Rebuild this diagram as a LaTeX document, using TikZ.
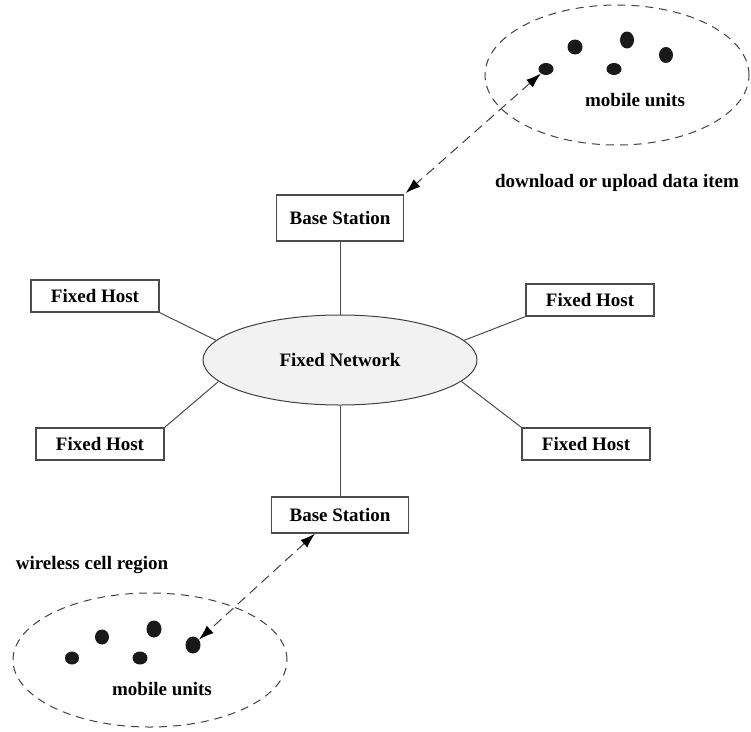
\documentclass[tikz,border=0pt]{standalone}
\usepackage{fontspec}
\setmainfont{Liberation Serif}
\usetikzlibrary{shapes.geometric,arrows.meta}

\begin{document}
\begin{tikzpicture}[x=1pt,y=-1pt,
		every node/.style={font=\fontsize{19}{22}\selectfont\bfseries},
		hostbox/.style={draw=black!70, line width=1.2pt, inner sep=0pt, minimum width=128pt, minimum height=32pt},
		cellzone/.style={ellipse, draw=black!75, line width=1pt, dash pattern=on 8pt off 6pt, inner sep=0pt},
		unit/.style={ellipse, fill=black!90, inner sep=0pt},
		link/.style={draw=black!70, line width=1pt},
		radio/.style={black!75, line width=1pt, dash pattern=on 10pt off 6pt,
			{Latex[length=15pt,width=10pt,black]}-{Latex[length=15pt,width=10pt,black]}}
	]

				\useasboundingbox (0,0) rectangle (751,731);
				
				\node[ellipse, draw=black!75, line width=1pt, fill=black!5, minimum width=274pt, minimum height=90pt] (net) at (340,360) {Fixed Network};
				
				\node[hostbox, minimum width=127pt, minimum height=46pt] (bsTop) at (340,218) {Base Station};
				\node[hostbox, minimum width=137pt, minimum height=36pt] (bsBot) at (340,515) {Base Station};
				
				\node[hostbox] (hostTL) at (95,296)  {Fixed Host};
				\node[hostbox] (hostBL) at (100,444) {Fixed Host};
				\node[hostbox] (hostTR) at (590,300) {Fixed Host};
				\node[hostbox] (hostBR) at (586,444) {Fixed Host};
				
				\draw[link] (bsTop) -- (net);
				\draw[link] (bsBot) -- (net);
				\draw[link] (net.171) -- (hostTL.south east);
				\draw[link] (net.190) -- (hostBL.north east);
				\draw[link] (net.9)   -- (hostTR.south west);
				\draw[link] (net.350) -- (hostBR.north west);
				
				
				\node[cellzone, minimum width=264pt, minimum height=140pt] (cellTop) at (617,75) {};
				\node[unit, minimum width=15pt, minimum height=12pt] (mA1) at (546,69) {};
				\node[unit, minimum width=15pt, minimum height=15pt] (mA2) at (575,47) {};
				\node[unit, minimum width=14pt, minimum height=17pt] (mA3) at (627,40) {};
				\node[unit, minimum width=14pt, minimum height=16pt] (mA4) at (666,55) {};
				\node[unit, minimum width=15pt, minimum height=12pt] (mA5) at (614,69) {};
				\node (muTop)  at (635,100) {mobile units};
				\node (dlText) at (617,183) {download or upload data item};
				
				\node[cellzone, minimum width=274pt, minimum height=134pt] (cellBot) at (150,660) {};
				\node[unit, minimum width=14pt, minimum height=13pt] (mB1) at (72,658)  {};
				\node[unit, minimum width=14pt, minimum height=15pt] (mB2) at (102,637) {};
				\node[unit, minimum width=15pt, minimum height=17pt] (mB3) at (154,629) {};
				\node[unit, minimum width=15pt, minimum height=13pt] (mB4) at (140,658) {};
				\node[unit, minimum width=15pt, minimum height=17pt] (mB5) at (193,645) {};
				\node (muBot)  at (162,689) {mobile units};
				\node (wcText) at (92,565)  {wireless cell region};
				
				
				\draw[radio, shorten >=2pt] (mA1) -- (bsTop.north east);
				\draw[radio] ([xshift=-25pt]bsBot.south) -- (mB5);
				
\end{tikzpicture}
\end{document}
